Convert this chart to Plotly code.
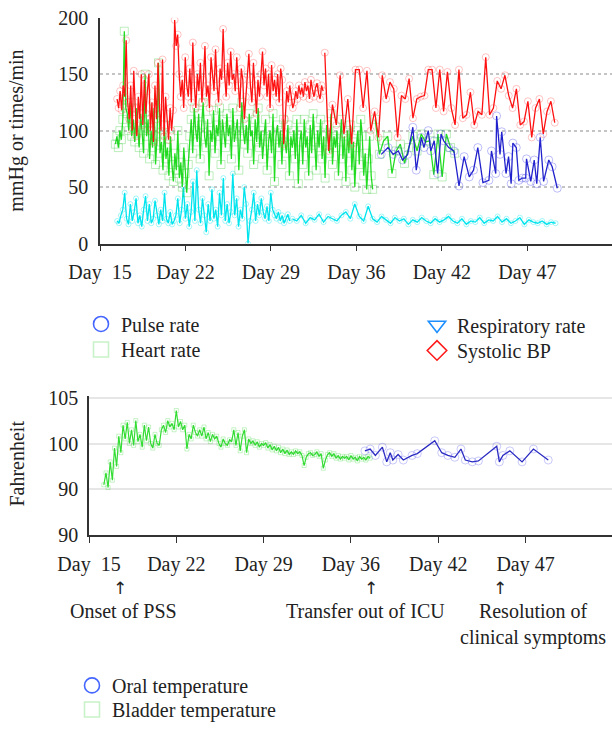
import numpy as np
import plotly.graph_objects as go

# ---------------- data (top panel: mmHg or times/min) ----------------
# x positions are in "tick units": 0 = Day 15, 1 = Day 22, 2 = Day 29, 3 = Day 36, 4 = Day 42, 5 = Day 47
tick_labels = ["Day\u00a0 15", "Day 22", "Day 29", "Day 36", "Day 42", "Day 47"]

# Systolic BP, dense ICU record then sparse ward record
sbp_icu = [128, 120, 135, 118, 140, 130, 180, 125, 110, 140, 100, 153, 120, 95, 130, 110, 150, 105, 145, 115,
           135, 150, 100, 125, 90, 140, 110, 160, 120, 100, 163, 95, 130, 105, 92, 120, 100,
           118, 198, 175, 185, 150, 130, 145, 120, 165, 140, 130, 155, 125, 178, 140, 120, 150, 135, 160, 125,
           145, 175, 130, 140, 120, 165, 150, 135, 172, 140, 125, 155, 145, 190, 150, 130, 160, 140, 170, 145,
           150, 135, 165, 140, 120, 155, 145, 110, 130, 150, 168, 140, 125, 160, 135, 115, 145, 130, 150, 170,
           140, 155, 130, 150, 120, 158, 135, 145, 130, 150, 125, 155, 145, 88, 110, 135, 125, 140, 130, 120,
           125, 135, 128, 140, 132, 138, 130, 143, 135, 140, 128, 145, 136, 130, 138, 142, 133, 128, 140, 135]
sbp_ward = [169, 82, 123, 105, 149, 97, 128, 88, 154, 154, 120, 153, 100, 117, 94, 149, 128, 143, 137, 94,
            131, 128, 146, 111, 128, 130, 131, 154, 154, 120, 154, 117, 152, 120, 105, 154, 111, 114, 134, 105,
            117, 114, 165, 114, 120, 144, 137, 149, 131, 120, 137, 105, 108, 126, 94, 120, 128, 97, 117, 126, 107]

# Heart rate
hr_icu = [88, 95, 85, 100, 92, 110, 188, 120,
          115, 100, 125, 95, 110, 90, 120, 105, 85, 115, 100, 80, 150, 95, 110, 75, 100, 85, 120, 70, 95, 160,
          80, 90, 65, 105, 75, 85, 60, 95, 70, 55, 80, 65, 100, 58, 72, 50, 85, 62, 45, 70,
          95, 110, 80, 120, 100, 90, 115, 75, 105, 125, 95, 85, 110, 60, 100, 90, 118, 80, 105, 95, 120, 70,
          110, 100, 85, 115, 95, 105, 75, 120, 90, 100, 110, 65, 95, 125, 100, 88,
          105, 80, 115, 95, 100, 70, 110, 90, 120, 85, 100, 75, 95, 110, 65, 90, 100, 80, 115, 55, 95, 105,
          85, 100, 70, 110, 90, 80, 105, 60, 95, 85, 100, 75, 110, 53,
          90, 100, 70, 110, 85, 95, 60, 105, 80, 115, 90, 65, 100, 85, 110, 75, 95, 58, 105, 90, 80, 115, 70,
          95, 85, 100, 60, 90, 110, 75, 95, 55, 100, 80, 105, 65, 90, 50, 85, 100, 70, 110, 95, 60, 80, 48,
          75, 95, 60, 48]
hr_ward = [110, 79, 91, 95, 62, 82, 88, 71, 85, 95, 82, 97, 90, 91, 61, 97, 59, 97, 85, 80]

# Respiratory rate
rr_icu = [20, 18, 25, 30, 45, 22, 17, 35, 20, 28, 40, 18, 25, 15, 30, 42, 20, 35, 18, 22, 38, 25, 17, 30,
          20, 45, 22, 18, 28, 17, 20,
          25, 40, 18, 30, 50, 22, 35, 15, 28, 55, 20, 65, 30, 18, 40, 25, 10, 35, 20, 48, 22, 30, 15, 45, 25,
          58, 20, 35, 18, 28, 62, 25, 40, 15, 30, 22, 50, 35, 0, 20,
          30, 45, 20, 35, 25, 40, 28, 22, 33, 20, 45, 30, 25, 22, 28, 20, 25, 18, 22, 26, 20]
rr_ward = [22, 20, 25, 18, 23, 21, 26, 19, 24, 22, 20, 25, 28, 22, 35, 24, 20, 33, 22, 19, 24, 21, 18, 23,
           20, 22, 17, 21, 19, 23, 20, 18, 22, 19, 21, 24, 20, 18, 22, 17, 20, 19, 23, 18, 21, 20, 24, 19,
           22, 18, 20, 23, 17, 21, 19, 18, 20, 17, 19, 18]

# Pulse rate (ward)
pulse_t = [3.29, 3.37, 3.43, 3.49, 3.54, 3.60, 3.66, 3.70, 3.76, 3.79, 3.84, 3.87, 3.91, 3.95, 3.99, 4.02,
           4.08, 4.14, 4.20, 4.26, 4.32, 4.37, 4.42, 4.48, 4.55, 4.58, 4.63, 4.64, 4.68, 4.70, 4.75, 4.78,
           4.81, 4.83, 4.87, 4.90, 4.94, 4.98, 4.99, 5.04, 5.08, 5.11, 5.15, 5.19, 5.25, 5.29, 5.35]
pulse = [79, 85, 79, 82, 74, 79, 103, 65, 94, 85, 100, 82, 91, 62, 97, 91, 85, 82, 51, 77, 59, 65, 85, 54,
         56, 82, 62, 113, 79, 99, 62, 77, 53, 89, 85, 56, 58, 58, 75, 55, 74, 53, 94, 55, 74, 68, 49]

# record spans (tick units) of the regularly sampled series
sbp_icu_span, sbp_ward_span = (0.20, 2.61), (2.63, 5.32)
hr_icu_span, hr_ward_span = (0.18, 3.19), (3.22, 4.15)
rr_icu_span, rr_ward_span = (0.20, 2.22), (2.25, 5.33)

# ---------------- data (bottom panel: Fahrenheit) ----------------
bladder = [95.5, 96.8, 95.2, 98.0, 96.0, 99.5, 97.5, 100.8, 99.0, 102.0,
           100.5, 102.3, 100.0, 101.5, 99.8, 102.5, 100.2, 101.0, 99.6, 102.0, 100.3, 101.8, 100.0, 99.5,
           101.0, 100.0, 99.8,
           101.5, 102.0, 101.2, 102.5, 101.8, 102.2, 101.5, 103.6, 101.8, 102.4, 101.5, 102.0, 99.4, 101.0,
           100.5, 102.0, 101.2, 100.8,
           101.5, 100.8, 101.8, 100.5, 101.2, 100.2, 101.0, 100.5, 100.8, 100.0, 99.6, 100.5, 100.0, 99.8,
           100.4,
           100.2, 101.5, 99.8, 101.2, 99.2, 100.8, 101.5, 99.0, 100.5, 100.0, 100.3, 99.8, 100.2, 99.6, 100.0,
           99.8, 100.1, 99.5, 99.9, 99.3, 99.7, 99.2, 99.6, 99.0, 99.4, 98.9, 99.3, 98.8, 99.1,
           98.8, 99.2, 98.9, 99.1, 98.7, 97.6, 98.5, 98.9, 99.0, 98.7, 98.8, 99.1, 98.6,
           98.9, 97.3, 98.2, 98.8, 99.0, 98.6, 98.9, 98.4, 98.7, 98.3, 98.6,
           98.4, 98.6, 98.2, 98.7, 98.3, 98.5, 98.1, 98.6, 98.3, 98.5, 98.2, 98.6, 98.4]
bladder_span = (0.17, 3.22)

oral_t = [3.16, 3.22, 3.28, 3.36, 3.41, 3.45, 3.48, 3.54, 3.60, 3.70, 3.76, 3.96, 4.04, 4.11, 4.19, 4.26,
          4.31, 4.39, 4.46, 4.67, 4.70, 4.74, 4.82, 4.96, 5.09, 5.26]
oral = [99.2, 99.4, 98.7, 99.6, 98.0, 99.0, 98.2, 98.8, 98.2, 98.7, 98.9, 100.3, 99.0, 98.7, 98.5, 99.4,
        98.2, 98.0, 98.1, 99.7, 98.0, 98.7, 99.2, 98.0, 99.4, 98.2]

temp_tickvals = [90, 95, 100, 105]
temp_ticktext = ["90", "90", "100", "105"]

events = ["Onset of PSS", "Transfer out of ICU", "Resolution of<br>clinical symptoms"]
event_arrow_t = [0.355, 3.23, 4.71]
event_label_t = [0.39, 3.17, 5.09]


def sample_times(span, values):
    return np.linspace(span[0], span[1], len(values))


# ---------------- figure ----------------
W, H = 612, 729
px = lambda v: v / W          # page pixel -> paper x
py = lambda v: 1 - v / H      # page pixel -> paper y

FONT = "Liberation Serif, Times New Roman, serif"
TXT = "#222222"
fig = go.Figure()

RED, GREEN, CYAN, BLUE = "#ff1010", "#22dd22", "#00e4ee", "#2222cc"


def add_series(x, y, color, mcolor, symbol, size, xa, ya, width=1.3):
    fig.add_trace(go.Scatter(
        x=x, y=y, xaxis=xa, yaxis=ya, mode="lines+markers", showlegend=False, hoverinfo="skip",
        line=dict(color=color, width=width),
        marker=dict(symbol=symbol, size=size, color=mcolor, line=dict(width=1, color=mcolor))))


# top panel
add_series(sample_times(rr_icu_span, rr_icu), rr_icu, CYAN, "rgba(0,225,235,0.35)", "circle-open", 5, "x", "y")
add_series(sample_times(rr_ward_span, rr_ward), rr_ward, CYAN, "rgba(0,225,235,0.35)", "circle-open", 5, "x", "y")
add_series(sample_times(hr_icu_span, hr_icu), hr_icu, GREEN, "rgba(40,200,40,0.30)", "square-open", 8, "x", "y")
add_series(sample_times(hr_ward_span, hr_ward), hr_ward, GREEN, "rgba(40,200,40,0.30)", "square-open", 8, "x", "y")
add_series(sample_times(sbp_icu_span, sbp_icu), sbp_icu, RED, "rgba(255,60,60,0.30)", "circle-open", 7, "x", "y")
add_series(sample_times(sbp_ward_span, sbp_ward), sbp_ward, RED, "rgba(255,60,60,0.30)", "circle-open", 7, "x", "y")
add_series(pulse_t, pulse, BLUE, "rgba(70,70,235,0.35)", "circle-open", 8, "x", "y")

# bottom panel
add_series(sample_times(bladder_span, bladder), bladder, "#33dd33", "rgba(40,210,40,0.25)", "square-open", 4,
           "x2", "y2", width=1.2)
add_series(oral_t, oral, "#2a2ac0", "rgba(80,80,235,0.30)", "circle-open", 8, "x2", "y2", width=1.3)

# legend entries, one legend box per entry: (name, symbol, colour, symbol centre in page px)
legend_items = [
    ("Pulse rate", "circle-open", "#4466ff", (101, 327)),
    ("Heart rate", "square-open", "#c8f2c8", (101, 353)),
    ("Respiratory rate", "triangle-down-open", "#1e8fff", (437, 328)),
    ("Systolic BP", "diamond-open", "#ff1a1a", (437, 354)),
    ("Oral temperature", "circle-open", "#4466ff", (92, 695)),
    ("Bladder temperature", "square-open", "#c8f2c8", (92, 720)),
]

legend_layout = {}
for i, (name, symbol, color, (sx, sy)) in enumerate(legend_items):
    key = "legend" if i == 0 else f"legend{i + 1}"
    fig.add_trace(go.Scatter(
        x=[None], y=[None], mode="markers", name=name, legend=key, hoverinfo="skip",
        marker=dict(symbol=symbol, size=15, color=color, line=dict(width=1.6, color=color))))
    legend_layout[key] = dict(x=px(sx - 20), y=py(sy - 17), xanchor="left", yanchor="top",
                              font=dict(family=FONT, size=20, color=TXT), bgcolor="rgba(0,0,0,0)",
                              itemclick=False, itemdoubleclick=False)

axis_common = dict(showline=True, linecolor="#333333", linewidth=1.5, zeroline=False, automargin=False,
                   ticklabeloverflow="allow", tickfont=dict(family=FONT, size=20, color=TXT))

fig.update_layout(
    width=W, height=H, margin=dict(l=0, r=0, t=0, b=0),
    paper_bgcolor="white", plot_bgcolor="white",
    font=dict(family=FONT, size=20, color=TXT),
    xaxis=dict(domain=[px(100), 1], anchor="y", range=[0, 5.99], tickvals=list(range(6)), ticktext=tick_labels,
               ticks="outside", ticklen=6, tickcolor="#333333", showgrid=False, ticklabelstandoff=4,
               **axis_common),
    yaxis=dict(domain=[py(248), py(18)], anchor="x", range=[0, 200], tickvals=[0, 50, 100, 150, 200],
               ticks="", showgrid=True, gridcolor="#c4c4c4", griddash="dot", gridwidth=1.5,
               ticklabelstandoff=6, **axis_common),
    xaxis2=dict(domain=[px(89), 1], anchor="y2", range=[0, 5.99], tickvals=list(range(6)), ticktext=tick_labels,
                ticks="outside", ticklen=6, tickcolor="#333333", showgrid=False, ticklabelstandoff=4,
                **axis_common),
    yaxis2=dict(domain=[py(545), py(403)], anchor="x2", range=[90, 105.2], tickvals=temp_tickvals,
                ticktext=temp_ticktext, ticks="", showgrid=True, gridcolor="#e6e6e6", gridwidth=2,
                ticklabelstandoff=5, **axis_common),
    **legend_layout,
)

# axis titles
fig.add_annotation(text="mmHg or times/min", x=px(17), y=py(133), xref="paper", yref="paper",
                   xanchor="center", yanchor="middle", textangle=-90, showarrow=False,
                   font=dict(family=FONT, size=20, color=TXT))
fig.add_annotation(text="Fahrenheit", x=px(17), y=py(472), xref="paper", yref="paper",
                   xanchor="center", yanchor="middle", textangle=-90, showarrow=False,
                   font=dict(family=FONT, size=20, color=TXT))

# event markers below bottom axis
for label, ta, tl in zip(events, event_arrow_t, event_label_t):
    fig.add_annotation(text="\u2191", x=ta, xref="x2", y=py(599), yref="paper", yanchor="middle",
                       showarrow=False, font=dict(family="DejaVu Sans", size=17, color=TXT))
    fig.add_annotation(text=label, x=tl, xref="x2", y=py(609), yref="paper", yanchor="top", showarrow=False,
                       font=dict(family=FONT, size=20, color=TXT), align="center")

# the page keeps no body margin, so the 612x729 figure fills the window exactly
fig.write_html("out.html", config={"displayModeBar": False},
               post_script="document.body.style.margin='0';document.body.style.overflow='hidden';")
